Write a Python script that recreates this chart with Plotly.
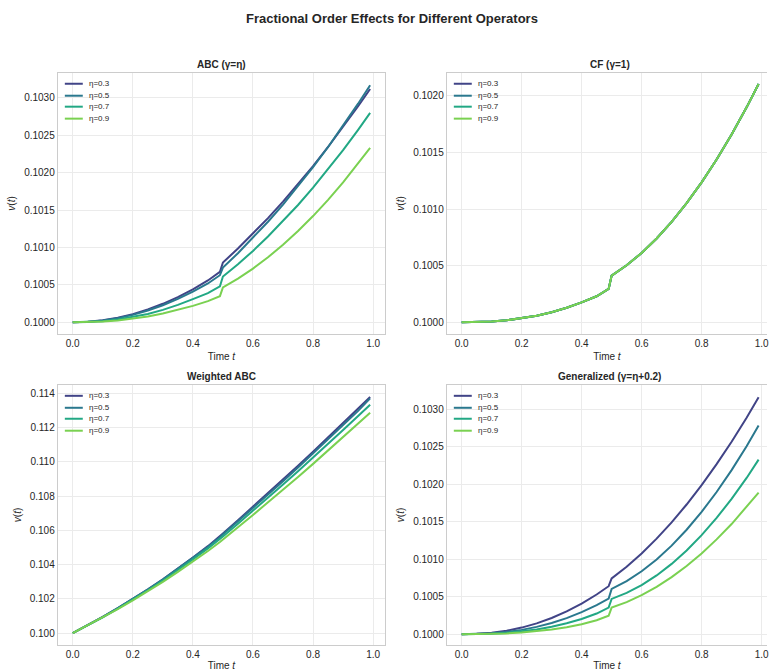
import plotly.graph_objects as go

# ---------------- data ----------------
t = [0.0, 0.05, 0.1, 0.15, 0.2, 0.25, 0.3, 0.35, 0.4, 0.45, 0.49,
     0.5, 0.55, 0.6, 0.65, 0.7, 0.75, 0.8, 0.85, 0.9, 0.95, 0.99]
etas = ["η=0.3", "η=0.5", "η=0.7", "η=0.9"]
colors = ["#414487", "#2a788e", "#22a884", "#7ad151"]

abc_03 = [0.1, 0.100007, 0.100027, 0.100062, 0.10011, 0.100172, 0.100248, 0.100338, 0.100442, 0.10056, 0.100675,
          0.10080, 0.100987, 0.101185, 0.101394, 0.101615, 0.101847, 0.10209, 0.102345, 0.102611, 0.102889, 0.10312]
abc_05 = [0.1, 0.100006, 0.100024, 0.100056, 0.10010, 0.100158, 0.100229, 0.100313, 0.10041, 0.10052, 0.10063,
          0.100733, 0.100924, 0.101128, 0.101345, 0.101575, 0.101818, 0.102075, 0.102345, 0.102628, 0.102924, 0.103171]
abc_07 = [0.1, 0.1000037, 0.100016, 0.100037, 0.10007, 0.100111, 0.100167, 0.100233, 0.10031, 0.100391, 0.100482,
          0.100613, 0.100778, 0.100955, 0.101147, 0.101351, 0.101569, 0.1018, 0.102044, 0.102302, 0.102573, 0.1028]
abc_09 = [0.1, 0.1000026, 0.100011, 0.100026, 0.10005, 0.100079, 0.100119, 0.100165, 0.10022, 0.100283, 0.10035,
          0.100467, 0.100585, 0.100719, 0.10087, 0.101037, 0.101221, 0.101421, 0.101638, 0.101871, 0.102121, 0.102334]

cf_all = [0.1, 0.1000014, 0.100007, 0.1000176, 0.100035, 0.1000586, 0.1000895, 0.100129, 0.100176, 0.10023, 0.100295,
          0.100412, 0.100503, 0.100612, 0.10074, 0.100887, 0.101052, 0.101235, 0.101437, 0.101658, 0.101897, 0.102103]

wabc_03 = [0.1, 0.10047, 0.10095, 0.10147, 0.10200, 0.10256, 0.10315, 0.10377, 0.10442, 0.10508, 0.10565,
           0.10582, 0.10659, 0.10737, 0.10816, 0.10896, 0.10977, 0.11059, 0.11142, 0.11226, 0.11311, 0.11378]
wabc_05 = [0.1, 0.10047, 0.10095, 0.10146, 0.10199, 0.10255, 0.10313, 0.10375, 0.10439, 0.10504, 0.10560,
           0.10577, 0.10653, 0.10730, 0.10808, 0.10887, 0.10967, 0.11048, 0.11130, 0.11213, 0.11297, 0.11370]
wabc_07 = [0.1, 0.10046, 0.10093, 0.10144, 0.10196, 0.10251, 0.10308, 0.10368, 0.10431, 0.10495, 0.10549,
           0.10565, 0.10639, 0.10714, 0.10790, 0.10867, 0.10945, 0.11024, 0.11104, 0.11185, 0.11267, 0.11333]
wabc_09 = [0.1, 0.10046, 0.10092, 0.10141, 0.10192, 0.10245, 0.10300, 0.10358, 0.10418, 0.10480, 0.10532,
           0.10547, 0.10618, 0.10690, 0.10763, 0.10837, 0.10912, 0.10988, 0.11065, 0.11143, 0.11222, 0.11286]

gen_03 = [0.1, 0.100004, 0.100019, 0.100046, 0.1000875, 0.100144, 0.100215, 0.100303, 0.100408, 0.100529, 0.10064,
          0.100745, 0.100901, 0.101078, 0.101275, 0.101493, 0.101731, 0.10199, 0.10227, 0.10257, 0.10289, 0.103163]
gen_05 = [0.1, 0.1000022, 0.1000112, 0.100029, 0.100057, 0.100097, 0.100149, 0.100214, 0.100294, 0.100388, 0.100475,
          0.100603, 0.100708, 0.100839, 0.100997, 0.101182, 0.101394, 0.101633, 0.101898, 0.10219, 0.102509, 0.102786]
gen_07 = [0.1, 0.100001, 0.1000058, 0.1000165, 0.100035, 0.100062, 0.1000995, 0.100145, 0.100203, 0.100275, 0.100355,
          0.10047, 0.10055, 0.100654, 0.100784, 0.100938, 0.101118, 0.101322, 0.101552, 0.101806, 0.102086, 0.10233]
gen_09 = [0.1, 0.1000006, 0.1000035, 0.10001, 0.100022, 0.10004, 0.100062, 0.100092, 0.100132, 0.100185, 0.100245,
          0.100355, 0.100428, 0.10052, 0.100631, 0.100761, 0.10091, 0.101078, 0.101265, 0.10147, 0.101695, 0.10189]

panels = [
    ("ABC (γ=η)", [abc_03, abc_05, abc_07, abc_09]),
    ("CF (γ=1)", [cf_all, cf_all, cf_all, cf_all]),
    ("Weighted ABC", [wabc_03, wabc_05, wabc_07, wabc_09]),
    ("Generalized (γ=η+0.2)", [gen_03, gen_05, gen_07, gen_09]),
]
x_ticks = [0.0, 0.2, 0.4, 0.6, 0.8, 1.0]
y_ticks = [
    [0.1000, 0.1005, 0.1010, 0.1015, 0.1020, 0.1025, 0.1030],
    [0.1000, 0.1005, 0.1010, 0.1015, 0.1020],
    [0.100, 0.102, 0.104, 0.106, 0.108, 0.110, 0.112, 0.114],
    [0.1000, 0.1005, 0.1010, 0.1015, 0.1020, 0.1025, 0.1030],
]
y_fmt = [".4f", ".4f", ".3f", ".4f"]

# ---------------- layout geometry ----------------
W, H = 769, 671
FONT = "Liberation Sans, Arial, sans-serif"
TXT = "#262626"
GRID = "#ebebeb"
FRAME = "#cccccc"

col_px = [(58, 386), (448, 769)]
row_px = [(73, 335), (386, 647)]
x_ranges = [[-0.0495, 1.0395], [-0.0495, 1.018]]
y_ranges = [[0.099844, 0.103337], [0.099897, 0.102202], [0.09931, 0.11449], [0.099854, 0.103329]]
legend_rows = [11, 23, 34, 46]

fig = go.Figure()
layout = dict(
    width=W, height=H,
    margin=dict(l=0, r=0, t=0, b=0),
    paper_bgcolor="white", plot_bgcolor="white",
    font=dict(family=FONT, color=TXT, size=10),
    showlegend=False,
    title=dict(text="<b>Fractional Order Effects for Different Operators</b>",
               x=393 / W, xanchor="center", y=1 - 18 / H, yanchor="middle",
               xref="paper", yref="container",
               font=dict(size=13, color=TXT, family=FONT)),
    annotations=[],
    shapes=[],
)

for i, (title, series) in enumerate(panels):
    r, c = divmod(i, 2)
    n = "" if i == 0 else str(i + 1)
    xa, ya = "x" + n, "y" + n
    for j in range(4):
        fig.add_trace(go.Scatter(
            x=t, y=series[j], mode="lines", name=etas[j],
            line=dict(color=colors[j], width=2),
            xaxis=xa, yaxis=ya,
        ))
    x0, x1 = col_px[c]
    y0, y1 = row_px[r]
    layout["xaxis" + n] = dict(
        domain=[x0 / W, x1 / W], range=x_ranges[c], anchor=ya,
        tickvals=x_ticks, tickformat=".1f", ticks="", ticklabeloverflow="allow",
        showgrid=True, gridcolor=GRID, gridwidth=1, zeroline=False,
        showline=True, linecolor=FRAME, linewidth=1.2, mirror=True,
        tickfont=dict(size=10, color=TXT),
        title=dict(text="Time <i>t</i>", font=dict(size=10, color=TXT), standoff=4),
    )
    layout["yaxis" + n] = dict(
        domain=[1 - y1 / H, 1 - y0 / H], range=y_ranges[i], anchor=xa,
        tickvals=y_ticks[i], tickformat=y_fmt[i], ticks="",
        showgrid=True, gridcolor=GRID, gridwidth=1, zeroline=False,
        showline=True, linecolor=FRAME, linewidth=1.2, mirror=(c == 0),
        tickfont=dict(size=10, color=TXT),
        title=dict(text="<i>v</i>(<i>t</i>)", font=dict(size=10, color=TXT), standoff=6),
    )
    # legend (compact, matplotlib-like)
    for j in range(4):
        yy = 1 - (y0 + legend_rows[j]) / H
        layout["shapes"].append(dict(
            type="line", xref="paper", yref="paper",
            x0=(x0 + 7) / W, x1=(x0 + 25) / W, y0=yy, y1=yy,
            line=dict(color=colors[j], width=2),
        ))
        layout["annotations"].append(dict(
            text=etas[j], xref="paper", yref="paper",
            x=(x0 + 29) / W, y=yy, xanchor="left", yanchor="middle",
            showarrow=False, font=dict(size=8, color=TXT, family=FONT),
        ))
    layout["annotations"].append(dict(
        text="<b>" + title + "</b>", xref="paper", yref="paper",
        x=((x0 + (x1 if c == 0 else 775)) / 2) / W, y=1 - (y0 - 8) / H,
        xanchor="center", yanchor="middle", showarrow=False,
        font=dict(size=10, color=TXT, family=FONT),
    ))

fig.update_layout(**layout)
fig.write_html("out.html")
